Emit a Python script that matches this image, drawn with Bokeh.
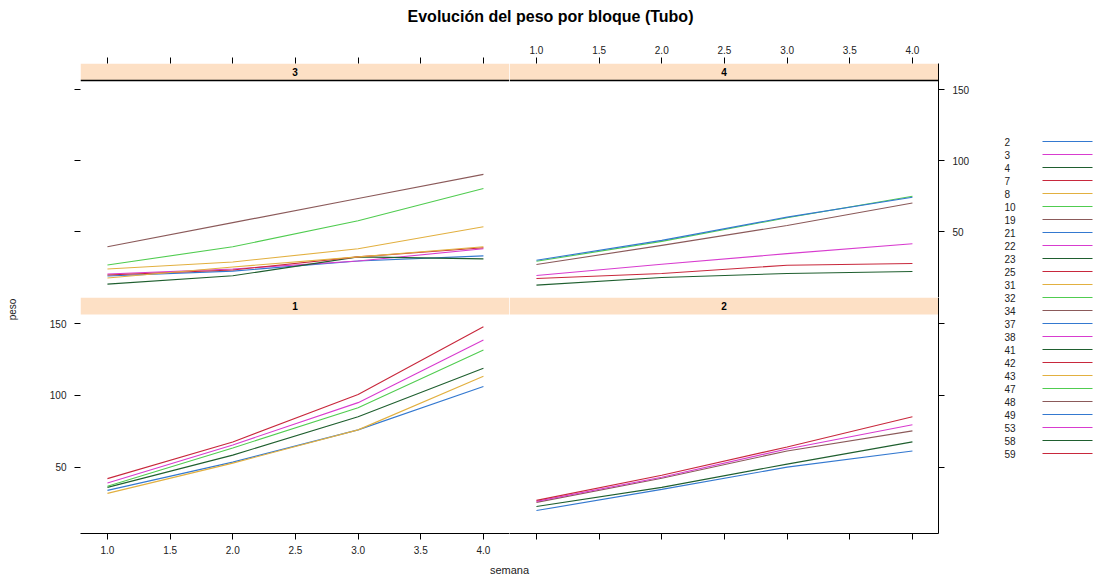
import math
from bokeh.plotting import figure
from bokeh.models import Range1d, FixedTicker, LinearAxis, BoxAnnotation, Span, NumeralTickFormatter
from bokeh.layouts import row, column
from bokeh.embed import file_html
from bokeh.resources import INLINE
from bokeh.core.properties import value

# ---------------- data ----------------
semana = [1, 2, 3, 4]
x_ticks = [1.0, 1.5, 2.0, 2.5, 3.0, 3.5, 4.0]
y_ticks = [50, 100, 150]

tubos = ["2", "3", "4", "7", "8", "10", "19", "21", "22", "23", "25", "31", "32",
         "34", "37", "38", "41", "42", "43", "47", "48", "49", "53", "58", "59"]
palette = ["#3479d0", "#d83ccf", "#1f5f2f", "#c8283c", "#e2b040", "#50cc50", "#8b5a5a"]

bloque1_tubos = ["2", "3", "4", "7", "8", "10"]
bloque1_peso = [
    [33.8, 53.5, 76.0, 106.3],
    [39.0, 65.5, 95.0, 138.7],
    [35.9, 58.4, 85.2, 119.0],
    [42.0, 67.6, 100.7, 147.9],
    [31.7, 52.8, 76.0, 113.4],
    [36.6, 63.4, 91.5, 131.7],
]

bloque2_tubos = ["19", "21", "22", "23", "25"]
bloque2_peso = [
    [25.4, 42.3, 61.3, 75.3],
    [19.7, 34.5, 50.0, 61.3],
    [26.1, 43.0, 62.7, 79.6],
    [22.5, 35.9, 52.1, 67.6],
    [26.8, 44.4, 64.1, 85.2],
]

bloque3_tubos = ["31", "32", "34", "37", "38", "41", "42", "43"]
bloque3_peso = [
    [23.8, 28.7, 38.0, 53.5],
    [26.6, 39.4, 57.8, 80.5],
    [39.4, 56.4, 73.4, 90.4],
    [18.8, 22.3, 29.4, 33.0],
    [20.2, 23.8, 29.4, 38.0],
    [13.1, 19.0, 32.3, 30.9],
    [19.5, 23.1, 32.3, 38.7],
    [17.4, 25.2, 32.3, 39.4],
]

bloque4_tubos = ["47", "48", "49", "53", "58", "59"]
bloque4_peso = [
    [29.2, 43.2, 59.9, 75.0],
    [26.9, 40.4, 54.4, 70.3],
    [29.9, 43.9, 60.3, 74.3],
    [19.2, 27.1, 34.6, 41.6],
    [12.4, 17.8, 20.6, 22.0],
    [17.1, 20.6, 26.4, 27.6],
]

# ---------------- style / layout ----------------
FONT_NAME = "Liberation Sans"
FONT = value(FONT_NAME)
X_LO, X_HI = 0.785, 4.208
Y_LO, Y_HI = 3.7, 156.5
STRIP_PX = 17
STRIP_COLOR = "#fde0c5"
TXT = "#222222"


def color_of(t):
    return palette[tubos.index(t) % len(palette)]


def style_axis(ax, labels=True, line=True, fmt=None):
    ax.major_tick_out = 6
    ax.major_tick_in = 0
    ax.minor_tick_line_color = None
    ax.major_tick_line_color = "black"
    ax.axis_line_color = "black" if line else None
    ax.major_label_text_font = FONT_NAME
    ax.major_label_text_font_size = "10px"
    ax.major_label_text_color = TXT if labels else None
    if fmt is not None:
        ax.formatter = fmt


def make_panel(w, h, bl, br, bt, bb, strip_text, tubos_b, peso_b,
               left=None, right=None, top=None, bottom=None, strip_line=False):
    frame_h = h - bt - bb
    per_px = (Y_HI - Y_LO) / (frame_h - STRIP_PX)
    y_end = Y_HI + STRIP_PX * per_px
    p = figure(width=w, height=h, x_range=Range1d(X_LO, X_HI), y_range=Range1d(Y_LO, y_end),
               output_backend="svg", toolbar_location=None,
               x_axis_location=None, y_axis_location=None,
               min_border_left=bl, min_border_right=br, min_border_top=bt, min_border_bottom=bb)
    p.outline_line_color = None
    p.grid.visible = False
    p.background_fill_color = "white"
    p.border_fill_color = "white"

    xfmt = NumeralTickFormatter(format="0.0")
    if left is not None:
        ax = LinearAxis(ticker=FixedTicker(ticks=y_ticks))
        style_axis(ax, labels=left, line=False)
        ax.major_label_standoff = 8
        p.add_layout(ax, "left")
    if right is not None:
        ax = LinearAxis(ticker=FixedTicker(ticks=y_ticks))
        style_axis(ax, labels=right, line=True)
        ax.major_label_standoff = 8
        p.add_layout(ax, "right")
    if top is not None:
        ax = LinearAxis(ticker=FixedTicker(ticks=x_ticks))
        style_axis(ax, labels=top, line=False, fmt=xfmt)
        ax.major_label_standoff = 4
        p.add_layout(ax, "above")
    if bottom is not None:
        ax = LinearAxis(ticker=FixedTicker(ticks=x_ticks))
        style_axis(ax, labels=bottom, line=True, fmt=xfmt)
        ax.major_label_standoff = 6
        p.add_layout(ax, "below")

    # strip
    p.add_layout(BoxAnnotation(bottom=Y_HI, top=y_end, fill_color=STRIP_COLOR,
                               fill_alpha=1.0, line_color=None, level="underlay"))
    if strip_line:
        p.add_layout(Span(location=Y_HI, dimension="width", line_color="black", line_width=1.5))
    p.text(x=[(X_LO + X_HI) / 2], y=[(Y_HI + y_end) / 2], text=[strip_text],
           text_align="center", text_baseline="middle", text_font=FONT,
           text_font_size="10px", text_font_style="bold", text_color="black")

    # series
    p.multi_line(xs=[semana] * len(tubos_b), ys=peso_b,
                 line_color=[color_of(t) for t in tubos_b], line_width=1.1)
    return p


p3 = make_panel(481, 258, 52, 0, 24, 0, "3", bloque3_tubos, bloque3_peso,
                left=False, top=False, strip_line=True)
p4 = make_panel(466, 258, 0, 37, 24, 0, "4", bloque4_tubos, bloque4_peso,
                right=True, top=True, strip_line=True)
p1 = make_panel(481, 262, 52, 0, 0, 26, "1", bloque1_tubos, bloque1_peso,
                left=True, bottom=True)
p2 = make_panel(466, 262, 0, 37, 0, 26, "2", bloque2_tubos, bloque2_peso,
                right=False, bottom=False)


def blank(w, h):
    f = figure(width=w, height=h, x_range=Range1d(0, w), y_range=Range1d(h, 0),
               output_backend="svg", toolbar_location=None,
               x_axis_location=None, y_axis_location=None, min_border=0)
    f.outline_line_color = None
    f.grid.visible = False
    return f


LEFT_W = 28
LEG_W = 118
TOTAL_W = LEFT_W + 481 + 466 + LEG_W

title_fig = blank(TOTAL_W, 39)
title_fig.text(x=[550], y=[16], text=["Evolución del peso por bloque (Tubo)"],
               text_align="center", text_baseline="middle", text_font=FONT,
               text_font_size="16px", text_font_style="bold", text_color="black")

ylab_fig = blank(LEFT_W, 520)
ylab_fig.text(x=[12], y=[270], text=["peso"], angle=math.pi / 2,
              text_align="center", text_baseline="middle", text_font=FONT,
              text_font_size="10px", text_color=TXT)

legend_fig = blank(LEG_W, 520)
rows_y = [102 + 13 * i for i in range(len(tubos))]
legend_fig.text(x=[29] * len(tubos), y=rows_y, text=tubos, text_align="left",
                text_baseline="middle", text_font=FONT, text_font_size="10px",
                text_color=TXT)
legend_fig.segment(x0=[67] * len(tubos), x1=[117] * len(tubos), y0=rows_y, y1=rows_y,
                   line_color=[color_of(t) for t in tubos], line_width=1.1)

xlab_fig = blank(TOTAL_W, 16)
xlab_fig.text(x=[509], y=[10], text=["semana"], text_align="center",
              text_baseline="middle", text_font=FONT, text_font_size="11px",
              text_color=TXT)

grid = column(row(p3, p4), row(p1, p2))
layout = column(title_fig, row(ylab_fig, grid, legend_fig), xlab_fig)

open("out.html", "w").write(file_html(layout, INLINE))
